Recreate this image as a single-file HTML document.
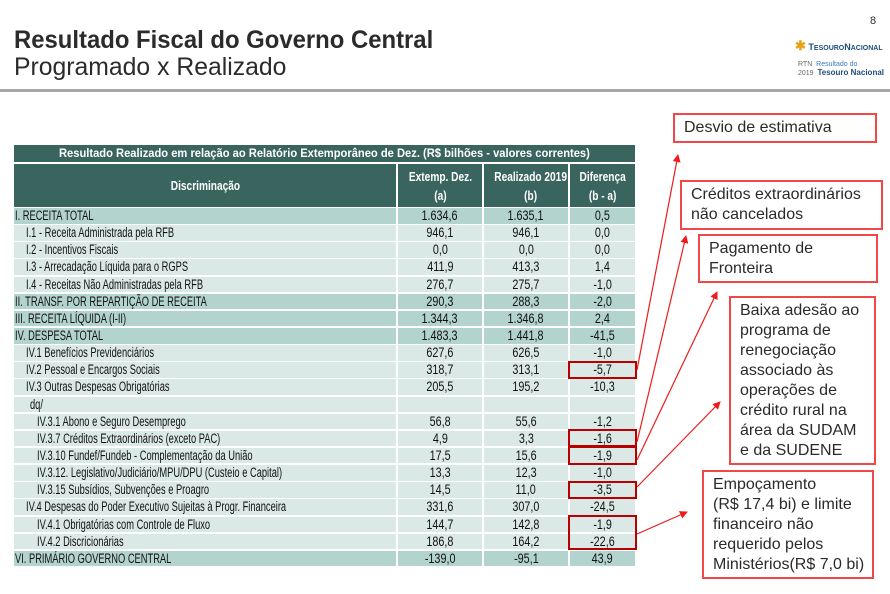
<!DOCTYPE html>
<html><head><meta charset="utf-8">
<style>
body{margin:0;width:890px;height:594px;background:#fff;position:relative;overflow:hidden;font-family:"Liberation Sans",Arial,sans-serif;}
.abs{position:absolute;}
.c{position:absolute;box-sizing:border-box;font-size:13.5px;line-height:16px;color:#111;white-space:nowrap;overflow:visible;}
.sx{display:inline-block;transform:scaleX(0.8);}
.l .sx{transform-origin:left center;transform:scaleX(0.69);}
.n{text-align:center;}
.n .sx{transform-origin:center center;}
.hd{background:#3a655e;color:#fff;font-weight:bold;}
.note{position:absolute;border:2px solid #f04848;box-sizing:border-box;font-size:16px;line-height:20px;color:#2a2a2a;padding:3px 0 0 9px;}
</style></head>
<body>
<div class="abs" style="left:14px;top:26px;font-size:25px;font-weight:bold;color:#2b2b2b;white-space:nowrap;"><span style="display:inline-block;transform:scaleX(0.955);transform-origin:left">Resultado Fiscal do Governo Central</span></div>
<div class="abs" style="left:14px;top:53px;font-size:25px;color:#2b2b2b;white-space:nowrap;"><span style="display:inline-block;transform:scaleX(0.99);transform-origin:left">Programado x Realizado</span></div>
<div class="abs" style="left:870px;top:15px;font-size:11px;color:#333;">8</div>
<div class="abs" style="left:795px;top:38px;font-size:9px;font-weight:bold;color:#1f4e79;white-space:nowrap;"><span style="color:#e8a317;font-size:13px">✱</span> T<span style="font-size:7px">ESOURO</span>N<span style="font-size:7px">ACIONAL</span></div>
<div class="abs" style="left:798px;top:61px;font-size:7px;line-height:8px;color:#666;white-space:nowrap;">RTN &nbsp;<span style="color:#3a7abd">Resultado do</span><br>2019 &nbsp;<b style="color:#1f4e79;font-size:8px">Tesouro Nacional</b></div>
<div class="abs" style="left:0;top:89px;width:890px;height:3px;background:#a6a6a6;"></div>

<div id="tbl"></div>
<svg class="abs" style="left:0;top:0" width="890" height="594">
<defs><marker id="ah" markerWidth="8" markerHeight="8" refX="7" refY="4" orient="auto" markerUnits="userSpaceOnUse"><path d="M0,0 L8,4 L0,8 z" fill="#ee1c1c"/></marker></defs>
<g stroke="#ee1c1c" stroke-width="1.2" fill="none" marker-end="url(#ah)">
<line x1="637" y1="370" x2="678" y2="155"/>
<line x1="637" y1="442" x2="686" y2="236"/>
<line x1="637" y1="460" x2="717" y2="292"/>
<line x1="637" y1="487" x2="720" y2="402"/>
<line x1="637" y1="534" x2="687" y2="512"/>
</g></svg>
<div class="note" style="left:673px;top:113px;width:204px;height:30px;">Desvio de estimativa</div>
<div class="note" style="left:680px;top:180px;width:203px;height:50px;">Créditos extraordinários<br>não cancelados</div>
<div class="note" style="left:698px;top:234px;width:180px;height:49px;">Pagamento de<br>Fronteira</div>
<div class="note" style="left:729px;top:296px;width:147px;height:169px;">Baixa adesão ao<br>programa de<br>renegociação<br>associado às<br>operações de<br>crédito rural na<br>área da SUDAM<br>e da SUDENE</div>
<div class="note" style="left:702px;top:470px;width:172px;height:109px;">Empoçamento<br>(R$ 17,4 bi) e limite<br>financeiro não<br>requerido pelos<br>Ministérios(R$ 7,0 bi)</div>

<script>
const labels=["I. RECEITA TOTAL","I.1 -  Receita Administrada pela RFB","I.2 -  Incentivos Fiscais","I.3 -  Arrecadação Líquida para o RGPS","I.4 -  Receitas Não Administradas pela RFB","II. TRANSF. POR REPARTIÇÃO DE RECEITA","III. RECEITA LÍQUIDA  (I-II)","IV. DESPESA TOTAL","IV.1  Benefícios Previdenciários","IV.2  Pessoal e Encargos Sociais","IV.3  Outras Despesas Obrigatórias","dq/","IV.3.1  Abono e Seguro Desemprego","IV.3.7  Créditos Extraordinários (exceto PAC)","IV.3.10  Fundef/Fundeb - Complementação da União","IV.3.12. Legislativo/Judiciário/MPU/DPU (Custeio e Capital)","IV.3.15  Subsídios, Subvenções e Proagro","IV.4  Despesas do Poder Executivo Sujeitas à Progr. Financeira","IV.4.1 Obrigatórias com Controle de Fluxo","IV.4.2 Discricionárias","VI. PRIMÁRIO GOVERNO CENTRAL"];
const extemp=["1.634,6","946,1","0,0","411,9","276,7","290,3","1.344,3","1.483,3","627,6","318,7","205,5","","56,8","4,9","17,5","13,3","14,5","331,6","144,7","186,8","-139,0"];
const realizado=["1.635,1","946,1","0,0","413,3","275,7","288,3","1.346,8","1.441,8","626,5","313,1","195,2","","55,6","3,3","15,6","12,3","11,0","307,0","142,8","164,2","-95,1"];
const diferenca=["0,5","0,0","0,0","1,4","-1,0","-2,0","2,4","-41,5","-1,0","-5,7","-10,3","","-1,2","-1,6","-1,9","-1,0","-3,5","-24,5","-1,9","-22,6","43,9"];
const levels=[0,1,1,1,1,0,0,0,1,1,1,2,3,3,3,3,3,1,3,3,0];
const boxed=[[9,9],[13,13],[14,14],[16,16],[18,19]];
const T=document.getElementById('tbl');
const cols=[[14,382],[398,84],[484,84],[570,65]];
const indent=[1,12,16,23];
const rowTop=208,rowH=17.14;
function cell(x,y,w,h,cls,bg,txt,name,pad){
  const d=document.createElement('div');
  d.className='c '+cls;
  d.style.left=x+'px';d.style.top=y+'px';d.style.width=w+'px';d.style.height=h+'px';
  if(bg)d.style.background=bg;
  if(pad!=null)d.style.paddingLeft=pad+'px';
  d.innerHTML='<span class="sx">'+txt+'</span>';
  
  
  T.appendChild(d);return d;
}
let t=cell(14,145,621,17,'hd n',null,'Resultado Realizado em relação ao Relatório Extemporâneo de Dez. (R$ bilhões - valores correntes)','table-title');
t.style.fontSize='12px';t.style.lineHeight='17px';t.firstChild.style.transform='scaleX(0.93)';
const hdr=['Discriminação','Extemp. Dez.<br>(a)','Realizado 2019<br>(b)','Diferença<br>(b - a)'];
hdr.forEach((h,i)=>{const c=cell(cols[i][0],164,cols[i][1],43,'hd n',null,h,'column-header');c.style.fontSize='13px';c.style.lineHeight='19px';c.style.paddingTop=i==0?'12px':'3px';c.firstChild.style.transform='scaleX(0.78)';});
labels.forEach((lab,i)=>{
  const y=rowTop+i*rowH;
  const hl=levels[i]==0;
  const bg=hl?'#b3d3ce':'#dbe9e6';
  const h=rowH-1.6;
  cell(cols[0][0],y,cols[0][1],h,'l',bg,lab,'row-label',indent[levels[i]]);
  cell(cols[1][0],y,cols[1][1],h,'n',bg,extemp[i],'extemp-value');
  cell(cols[2][0],y,cols[2][1],h,'n',bg,realizado[i],'realizado-value');
  cell(cols[3][0],y,cols[3][1],h,'n',bg,diferenca[i],'diferenca-value');
});
boxed.forEach(b=>{
  const d=document.createElement('div');
  d.style.cssText='position:absolute;box-sizing:border-box;border:2px solid #b80000;';
  d.style.left='568px';d.style.width='69px';
  d.style.top=(rowTop+b[0]*rowH-1.5)+'px';
  d.style.height=((b[1]-b[0]+1)*rowH+1)+'px';
  
  
  T.appendChild(d);
});
</script>
</body></html>
